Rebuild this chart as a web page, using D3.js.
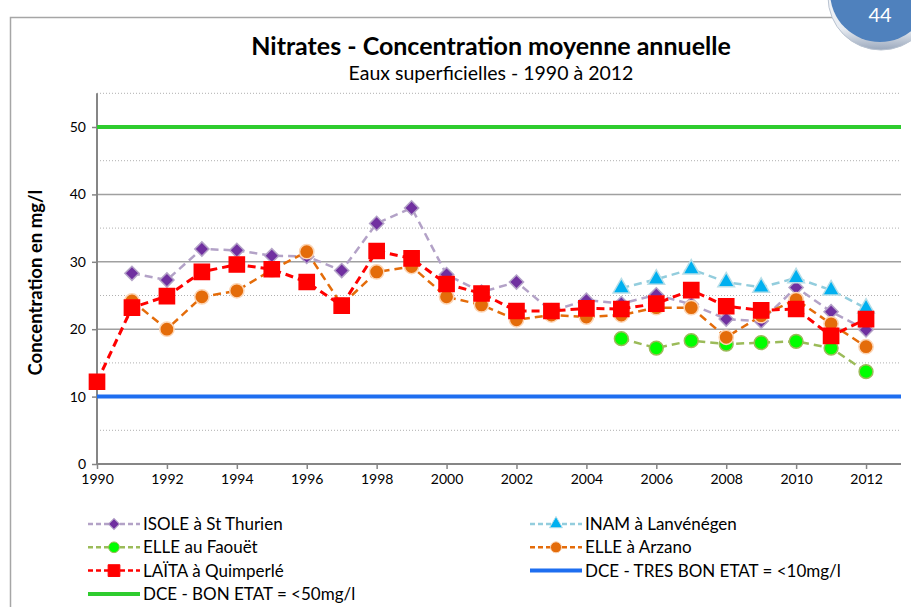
<!DOCTYPE html>
<html>
<head>
<meta charset="utf-8">
<script src="https://cdn.jsdelivr.net/npm/d3@7/dist/d3.min.js"></script>
<style>
  html, body { margin: 0; padding: 0; background: #fff; }
  svg { display: block; font-family: Lato, "Open Sans", sans-serif; }
</style>
</head>
<body>
<svg id="chart" width="911" height="607"></svg>
<script>
// Annual mean nitrate concentration (mg/l), surface waters
const xTickYears = [1990, 1992, 1994, 1996, 1998, 2000, 2002, 2004, 2006, 2008, 2010, 2012];
const yTickValues = [0, 10, 20, 30, 40, 50];

const isoleYears = d3.range(1991, 2013);
const isoleValues = [28.3, 27.3, 31.9, 31.7, 30.9, 30.8, 28.7, 35.7, 38.0, 28.1, 25.5, 27.0,
                     22.7, 24.3, 23.8, 25.1, 23.7, 21.5, 21.2, 26.2, 22.6, 19.9];

const inamYears = d3.range(2005, 2013);
const inamValues = [26.1, 27.4, 28.9, 27.0, 26.2, 27.6, 25.8, 23.1];

const faouetYears = d3.range(2005, 2013);
const faouetValues = [18.6, 17.2, 18.3, 17.8, 18.0, 18.2, 17.2, 13.7];

const arzanoYears = d3.range(1991, 2013);
const arzanoValues = [24.2, 20.0, 24.8, 25.7, 28.8, 31.5, 23.6, 28.5, 29.3, 24.8, 23.6, 21.4,
                      22.1, 21.8, 22.1, 23.2, 23.2, 18.8, 22.0, 24.4, 20.8, 17.4];

const laitaYears = d3.range(1990, 2013);
const laitaValues = [12.2, 23.2, 24.9, 28.5, 29.6, 28.9, 27.0, 23.5, 31.6, 30.5, 26.7, 25.3,
                     22.7, 22.7, 23.1, 23.0, 23.8, 25.8, 23.4, 22.8, 23.0, 19.0, 21.5];

const limitTresBon = 10;
const limitBon = 50;

// Diamonds are drawn as squares turned by 45 degrees
const series = [
  { name: "ISOLE à St Thurien", years: isoleYears, values: isoleValues,
    line: "#b3a2c7", fill: "#7030a0", halo: "#b3a2c7", symbol: d3.symbolSquare, size: 100, rot: 45 },
  { name: "INAM à Lanvénégen", years: inamYears, values: inamValues,
    line: "#93cddd", fill: "#00b0f0", halo: "#b7dee8", symbol: d3.symbolTriangle, size: 120, rot: 0 },
  { name: "ELLE au Faouët", years: faouetYears, values: faouetValues,
    line: "#9bbb59", fill: "#00ff00", halo: "#9bbb59", symbol: d3.symbolCircle, size: 150, rot: 0 },
  { name: "ELLE à Arzano", years: arzanoYears, values: arzanoValues,
    line: "#e46c0a", fill: "#e46c0a", halo: "#fcd5b5", symbol: d3.symbolCircle, size: 160, rot: 0 },
  { name: "LAÏTA à Quimperlé", years: laitaYears, values: laitaValues,
    line: "#ff0000", fill: "#ff0000", halo: "#ff0000", symbol: d3.symbolSquare, size: 230, rot: 0 }
];

const svg = d3.select("#chart");

// Page frame and page-number badge
svg.append("rect")
  .attr("x", 10.5).attr("y", 17.5).attr("width", 1000).attr("height", 1000)
  .attr("fill", "none").attr("stroke", "#a6a6a6").attr("stroke-width", 1.5);

const badgeGrad = svg.append("defs").append("linearGradient")
  .attr("id", "rim").attr("x1", 0).attr("y1", 0).attr("x2", 0).attr("y2", 1);
badgeGrad.append("stop").attr("offset", "0%").attr("stop-color", "#ffffff");
badgeGrad.append("stop").attr("offset", "80%").attr("stop-color", "#e8ecf2");
badgeGrad.append("stop").attr("offset", "100%").attr("stop-color", "#9aa8bd");

svg.append("circle").attr("cx", 881).attr("cy", -3).attr("r", 53)
  .attr("fill", "url(#rim)").attr("stroke", "#b8c2d0").attr("stroke-width", 1);
svg.append("circle").attr("cx", 880).attr("cy", -8).attr("r", 50)
  .attr("fill", "#4f81bd");
svg.append("text").attr("x", 880).attr("y", 22)
  .attr("text-anchor", "middle").attr("fill", "#fff")
  .attr("font-size", 20).text("44");

// Titles
svg.append("text").attr("x", 491).attr("y", 55)
  .attr("text-anchor", "middle").attr("font-size", 25).attr("font-weight", "bold")
  .attr("fill", "#000").text("Nitrates - Concentration moyenne annuelle");
svg.append("text").attr("x", 491).attr("y", 80)
  .attr("text-anchor", "middle").attr("font-size", 19.5)
  .attr("fill", "#000").text("Eaux superficielles - 1990 à 2012");

// Scales
const x = d3.scaleLinear().domain([1990, 2013]).range([97, 901]);
const y = d3.scaleLinear().domain([0, 55]).range([464, 93.3]);

// Gridlines: dotted minor at 5, 15, ... 55; solid major at 10..50
const grid = svg.append("g");
grid.selectAll("line.minor").data(d3.range(5, 60, 10)).join("line")
  .attr("x1", x(1990)).attr("x2", x(2013))
  .attr("y1", d => y(d)).attr("y2", d => y(d))
  .attr("stroke", "#b0b0b0").attr("stroke-width", 1).attr("stroke-dasharray", "1,2");
grid.selectAll("line.major").data(yTickValues.slice(1)).join("line")
  .attr("x1", x(1990)).attr("x2", x(2013))
  .attr("y1", d => y(d)).attr("y2", d => y(d))
  .attr("stroke", "#a0a0a0").attr("stroke-width", 1.5);

// Axes
const yAxis = d3.axisLeft(y).tickValues(yTickValues).tickSize(5).tickPadding(6);
const yG = svg.append("g").attr("transform", `translate(${x(1990)},0)`).call(yAxis);
const xAxis = d3.axisBottom(x).tickValues(xTickYears).tickFormat(d3.format("d"))
  .tickSize(5).tickPadding(5);
const xG = svg.append("g").attr("transform", `translate(0,${y(0)})`).call(xAxis);
[yG, xG].forEach(g => {
  g.select(".domain").attr("stroke", "#868686").attr("stroke-width", 2);
  g.selectAll(".tick line").attr("stroke", "#868686").attr("stroke-width", 1.5);
  g.selectAll(".tick text").attr("fill", "#000").attr("font-size", 14)
    .attr("font-family", "Lato, sans-serif");
});
xG.select(".domain").attr("d", `M${x(1990)},0H${x(2013)}`);
yG.select(".domain").attr("d", `M0,${y(55)}V${y(0)}`);

// Y axis title
svg.append("text")
  .attr("transform", `translate(42,${(y(0) + y(55)) / 2 + 4}) rotate(-90)`)
  .attr("text-anchor", "middle").attr("font-size", 18.5).attr("font-weight", "bold")
  .attr("fill", "#000").text("Concentration en mg/l");

// Series lines and markers
const lineGen = d3.line().x(d => x(d[0])).y(d => y(d[1]));
series.forEach(s => {
  const pts = s.years.map((yr, i) => [yr, s.values[i]]);
  const g = svg.append("g");
  g.append("path").datum(pts).attr("d", lineGen)
    .attr("fill", "none").attr("stroke", s.line)
    .attr("stroke-width", s.line === "#ff0000" ? 3 : 2.5)
    .attr("stroke-dasharray", "8,5");
  g.selectAll("path.m").data(pts).join("path")
    .attr("transform", d => `translate(${x(d[0])},${y(d[1])}) rotate(${s.rot})`)
    .attr("d", d3.symbol().type(s.symbol).size(s.size))
    .attr("fill", s.fill).attr("stroke", s.halo).attr("stroke-width", 1.5);
});

// Reference thresholds
svg.append("line").attr("x1", x(1990)).attr("x2", x(2013))
  .attr("y1", y(limitBon)).attr("y2", y(limitBon))
  .attr("stroke", "#2ecc2e").attr("stroke-width", 4);
svg.append("line").attr("x1", x(1990)).attr("x2", x(2013))
  .attr("y1", y(limitTresBon)).attr("y2", y(limitTresBon))
  .attr("stroke", "#1e6ef0").attr("stroke-width", 4);

// Legend
const legendItems = [
  { ...series[0], col: 0, row: 0 },
  { ...series[1], col: 1, row: 0 },
  { ...series[2], col: 0, row: 1 },
  { ...series[3], col: 1, row: 1 },
  { ...series[4], col: 0, row: 2 },
  { name: "DCE - TRES BON ETAT = <10mg/l", line: "#1e6ef0", solid: true, col: 1, row: 2 },
  { name: "DCE - BON ETAT = <50mg/l", line: "#2ecc2e", solid: true, col: 0, row: 3 }
];
const legend = svg.append("g");
legendItems.forEach(it => {
  const lx = it.col === 0 ? 88 : 530;
  const ly = 524 + it.row * 23.3;
  const g = legend.append("g").attr("transform", `translate(${lx},${ly})`);
  if (it.solid) {
    g.append("line").attr("x1", 0).attr("x2", 52).attr("y1", 0).attr("y2", 0)
      .attr("stroke", it.line).attr("stroke-width", 4);
  } else {
    g.append("line").attr("x1", 0).attr("x2", 52).attr("y1", 0).attr("y2", 0)
      .attr("stroke", it.line).attr("stroke-width", 2.5).attr("stroke-dasharray", "5,3");
    g.append("path").attr("transform", `translate(26,0) rotate(${it.rot})`)
      .attr("d", d3.symbol().type(it.symbol).size(it.size * 0.6))
      .attr("fill", it.fill).attr("stroke", it.halo).attr("stroke-width", 1);
  }
  g.append("text").attr("x", 55).attr("y", 6)
    .attr("font-size", 17).attr("fill", "#000").text(it.name);
});
</script>
</body>
</html>
